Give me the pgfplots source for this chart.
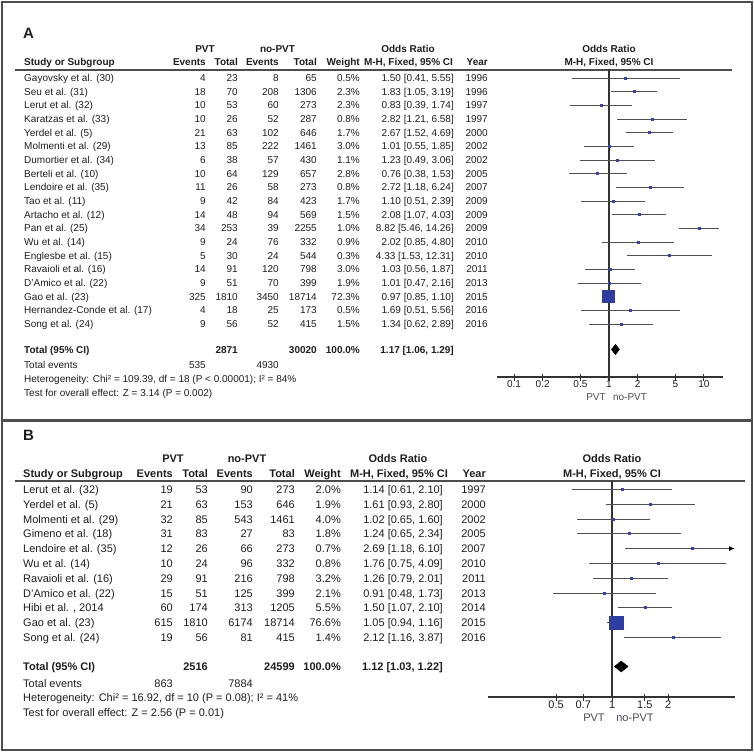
\documentclass[border=0pt]{standalone}
\usepackage{pgfplots}
\pgfplotsset{compat=1.18}
\usepackage{fontspec}
\setmainfont{Liberation Sans}
\usetikzlibrary{arrows.meta}

\definecolor{txt}{HTML}{1E1E1E}
\definecolor{cigray}{HTML}{505050}
\definecolor{sq}{HTML}{3344AA}
\definecolor{sqbig}{HTML}{2F3E9E}
\definecolor{axcol}{HTML}{333333}
\definecolor{framecol}{HTML}{4D4D4D}
\definecolor{lblcol}{HTML}{4A4A5A}

\pgfplotsset{
  myforest/.style={
    scale only axis, clip=false,
    xminorticks=false,
    axis x line*=bottom, axis y line=none,
    ytick=\empty,
    tick align=center, major tick length=7pt,
    x axis line style={line width=1.3pt, color=axcol},
    xtick style={line width=1.1pt, color=axcol},
    xticklabel style={text=txt, inner sep=0pt, anchor=north},
  },
  ci/.style={draw=cigray, line width=1.5pt},
  vline/.style={draw=axcol, line width=1.3pt},
  smallsq/.style={only marks, mark=square*, mark size=1pt, color=sq},
}

\begin{document}
\begin{tikzpicture}
\useasboundingbox (0,0) rectangle (754pt,-752pt);

% frames and header rules
\begin{scope}[x=1pt,y=-1pt]
  \draw[framecol, line width=1.5pt] (2,2) rectangle (752,420);
  \draw[framecol, line width=1.5pt] (2,421.5) rectangle (752,750);
  \draw[framecol, line width=1.6pt] (15,70) -- (732,70);
  \draw[framecol, line width=1.6pt] (15,481) -- (745,481);
\end{scope}

% ---------------- panel A text ----------------
\begin{scope}[x=1pt,y=-1pt, every node/.style={inner sep=0pt, text=txt},
  fa/.style={font=\fontsize{10}{12}\selectfont},
  fab/.style={font=\fontsize{10}{12}\selectfont\bfseries}]
  \node[anchor=base west, font=\fontsize{15}{18}\selectfont\bfseries] at (23,39) {A};
  \node[fab, anchor=base] at (205,52.6) {PVT};
  \node[fab, anchor=base] at (277.5,52.6) {no-PVT};
  \node[fab, anchor=base] at (408,52.6) {Odds Ratio};
  \node[fab, anchor=base] at (609,52.6) {Odds Ratio};
  \node[fab, anchor=base west] at (24,65.6) {Study or Subgroup};
  \node[fab, anchor=base east] at (206,65.6) {Events};
  \node[fab, anchor=base east] at (238,65.6) {Total};
  \node[fab, anchor=base east] at (279,65.6) {Events};
  \node[fab, anchor=base east] at (317,65.6) {Total};
  \node[fab, anchor=base east] at (360,65.6) {Weight};
  \node[fab, anchor=base] at (408.5,65.6) {M-H, Fixed, 95\% CI};
  \node[fab, anchor=base east] at (488,65.6) {Year};
  \node[fab, anchor=base] at (609,65.6) {M-H, Fixed, 95\% CI};

  \foreach \n/\ea/\ta/\eb/\tb/\w/\o/\yr [count=\i from 0] in {
    Gayovsky et al. (30)/4/23/8/65/0.5/{1.50 [0.41, 5.55]}/1996,
    Seu et al. (31)/18/70/208/1306/2.3/{1.83 [1.05, 3.19]}/1996,
    Lerut et al. (32)/10/53/60/273/2.3/{0.83 [0.39, 1.74]}/1997,
    Karatzas et al. (33)/10/26/52/287/0.8/{2.82 [1.21, 6.58]}/1997,
    Yerdel et al. (5)/21/63/102/646/1.7/{2.67 [1.52, 4.69]}/2000,
    Molmenti et al. (29)/13/85/222/1461/3.0/{1.01 [0.55, 1.85]}/2002,
    Dumortier et al. (34)/6/38/57/430/1.1/{1.23 [0.49, 3.06]}/2002,
    Berteli et al. (10)/10/64/129/657/2.8/{0.76 [0.38, 1.53]}/2005,
    Lendoire et al. (35)/11/26/58/273/0.8/{2.72 [1.18, 6.24]}/2007,
    Tao et al. (11)/9/42/84/423/1.7/{1.10 [0.51, 2.39]}/2009,
    Artacho et al.  (12)/14/48/94/569/1.5/{2.08 [1.07, 4.03]}/2009,
    Pan et al. (25)/34/253/39/2255/1.0/{8.82 [5.46, 14.26]}/2009,
    Wu et al. (14)/9/24/76/332/0.9/{2.02 [0.85, 4.80]}/2010,
    Englesbe et al. (15)/5/30/24/544/0.3/{4.33 [1.53, 12.31]}/2010,
    Ravaioli et al. (16)/14/91/120/798/3.0/{1.03 [0.56, 1.87]}/2011,
    D'Amico et al. (22)/9/51/70/399/1.9/{1.01 [0.47, 2.16]}/2013,
    Gao et al. (23)/325/1810/3450/18714/72.3/{0.97 [0.85, 1.10]}/2015,
    Hernandez-Conde et al. (17)/4/18/25/173/0.5/{1.69 [0.51, 5.56]}/2016,
    Song et al. (24)/9/56/52/415/1.5/{1.34 [0.62, 2.89]}/2016}{
    \pgfmathsetmacro\yy{78+13.67*\i+3.6}
    \node[fa, anchor=base west] at (24,\yy) {\n};
    \node[fa, anchor=base east] at (206,\yy) {\ea};
    \node[fa, anchor=base east] at (238,\yy) {\ta};
    \node[fa, anchor=base east] at (279,\yy) {\eb};
    \node[fa, anchor=base east] at (317,\yy) {\tb};
    \node[fa, anchor=base east] at (360,\yy) {\w\%};
    \node[fa, anchor=base east] at (454,\yy) {\o};
    \node[fa, anchor=base east] at (488,\yy) {\yr};
  }

  \node[fab, anchor=base west] at (24,353.6) {Total (95\% CI)};
  \node[fab, anchor=base east] at (238,353.6) {2871};
  \node[fab, anchor=base east] at (317,353.6) {30020};
  \node[fab, anchor=base east] at (360,353.6) {100.0\%};
  \node[fab, anchor=base east] at (454,353.6) {1.17 [1.06, 1.29]};
  \node[fa, anchor=base west] at (24,368.6) {Total events};
  \node[fa, anchor=base east] at (206,368.6) {535};
  \node[fa, anchor=base east] at (279,368.6) {4930};
  \node[fa, anchor=base west] at (24,382.6) {Heterogeneity: Chi² = 109.39, df = 18 (P < 0.00001); I² = 84\%};
  \node[fa, anchor=base west] at (24,396.4) {Test for overall effect: Z = 3.14 (P = 0.002)};
  \node[fa, anchor=base, text=lblcol] at (596,400.6) {PVT};
  \node[fa, anchor=base, text=lblcol] at (630,400.6) {no-PVT};
\end{scope}

% ---------------- panel B text ----------------
\begin{scope}[x=1pt,y=-1pt, every node/.style={inner sep=0pt, text=txt},
  fb/.style={font=\fontsize{11}{13}\selectfont},
  fbb/.style={font=\fontsize{11}{13}\selectfont\bfseries}]
  \node[anchor=base west, font=\fontsize{15}{18}\selectfont\bfseries] at (23,440.5) {B};
  \node[fbb, anchor=base] at (173,462.9) {PVT};
  \node[fbb, anchor=base] at (247,462.9) {no-PVT};
  \node[fbb, anchor=base] at (398,462.9) {Odds Ratio};
  \node[fbb, anchor=base] at (612,462.9) {Odds Ratio};
  \node[fbb, anchor=base west] at (23,477.9) {Study or Subgroup};
  \node[fbb, anchor=base east] at (173,477.9) {Events};
  \node[fbb, anchor=base east] at (208,477.9) {Total};
  \node[fbb, anchor=base east] at (253,477.9) {Events};
  \node[fbb, anchor=base east] at (295,477.9) {Total};
  \node[fbb, anchor=base east] at (341,477.9) {Weight};
  \node[fbb, anchor=base] at (399,477.9) {M-H, Fixed, 95\% CI};
  \node[fbb, anchor=base east] at (486,477.9) {Year};
  \node[fbb, anchor=base] at (612,477.9) {M-H, Fixed, 95\% CI};

  \foreach \n/\ea/\ta/\eb/\tb/\w/\o/\yr [count=\i from 0] in {
    Lerut et al. (32)/19/53/90/273/2.0/{1.14 [0.61, 2.10]}/1997,
    Yerdel et al. (5)/21/63/153/646/1.9/{1.61 [0.93, 2.80]}/2000,
    Molmenti et al. (29)/32/85/543/1461/4.0/{1.02 [0.65, 1.60]}/2002,
    Gimeno et al. (18)/31/83/27/83/1.8/{1.24 [0.65, 2.34]}/2005,
    Lendoire et al. (35)/12/26/66/273/0.7/{2.69 [1.18, 6.10]}/2007,
    Wu et al. (14)/10/24/96/332/0.8/{1.76 [0.75, 4.09]}/2010,
    Ravaioli et al. (16)/29/91/216/798/3.2/{1.26 [0.79, 2.01]}/2011,
    D'Amico et al. (22)/15/51/125/399/2.1/{0.91 [0.48, 1.73]}/2013,
    {Hibi et al. , 2014}/60/174/313/1205/5.5/{1.50 [1.07, 2.10]}/2014,
    Gao et al. (23)/615/1810/6174/18714/76.6/{1.05 [0.94, 1.16]}/2015,
    Song et al. (24)/19/56/81/415/1.4/{2.12 [1.16, 3.87]}/2016}{
    \pgfmathsetmacro\yy{489.5+14.8*\i+3.9}
    \node[fb, anchor=base west] at (23,\yy) {\n};
    \node[fb, anchor=base east] at (173,\yy) {\ea};
    \node[fb, anchor=base east] at (208,\yy) {\ta};
    \node[fb, anchor=base east] at (253,\yy) {\eb};
    \node[fb, anchor=base east] at (295,\yy) {\tb};
    \node[fb, anchor=base east] at (341,\yy) {\w\%};
    \node[fb, anchor=base east] at (443,\yy) {\o};
    \node[fb, anchor=base east] at (486,\yy) {\yr};
  }

  \node[fbb, anchor=base west] at (23,670.4) {Total (95\% CI)};
  \node[fbb, anchor=base east] at (208,670.4) {2516};
  \node[fbb, anchor=base east] at (295,670.4) {24599};
  \node[fbb, anchor=base east] at (341,670.4) {100.0\%};
  \node[fbb, anchor=base east] at (443,670.4) {1.12 [1.03, 1.22]};
  \node[fb, anchor=base west] at (23,687.9) {Total events};
  \node[fb, anchor=base east] at (173,687.9) {863};
  \node[fb, anchor=base east] at (253,687.9) {7884};
  \node[fb, anchor=base west] at (23,701.9) {Heterogeneity: Chi² = 16.92, df = 10 (P = 0.08); I² = 41\%};
  \node[fb, anchor=base west] at (23,716.9) {Test for overall effect: Z = 2.56 (P = 0.01)};
  \node[fb, anchor=base, text=lblcol] at (594,721.9) {PVT};
  \node[fb, anchor=base, text=lblcol] at (635,721.9) {no-PVT};
\end{scope}

% ---------------- panel A forest plot ----------------
\begin{semilogxaxis}[myforest,
  at={(497pt,-377pt)}, anchor=south west,
  width=226pt, height=308pt,
  xmin=0.0661, xmax=15.9, ymin=-377, ymax=-69,
  xtick={0.1,0.2,0.5,1,2,5,10}, xticklabels={0.1,0.2,0.5,1,2,5,10},
  xticklabel style={font=\fontsize{10}{12}\selectfont},
]
\addplot[vline] coordinates {(1,-69) (1,-377)};
\addplot[ci] coordinates {(0.41,-78.5) (5.55,-78.5)};
\addplot[ci] coordinates {(1.05,-91.5) (3.19,-91.5)};
\addplot[ci] coordinates {(0.39,-105.5) (1.74,-105.5)};
\addplot[ci] coordinates {(1.21,-119.5) (6.58,-119.5)};
\addplot[ci] coordinates {(1.52,-132.5) (4.69,-132.5)};
\addplot[ci] coordinates {(0.55,-146.5) (1.85,-146.5)};
\addplot[ci] coordinates {(0.49,-160.5) (3.06,-160.5)};
\addplot[ci] coordinates {(0.38,-173.5) (1.53,-173.5)};
\addplot[ci] coordinates {(1.18,-187.5) (6.24,-187.5)};
\addplot[ci] coordinates {(0.51,-201.5) (2.39,-201.5)};
\addplot[ci] coordinates {(1.07,-214.5) (4.03,-214.5)};
\addplot[ci] coordinates {(5.46,-228.5) (14.26,-228.5)};
\addplot[ci] coordinates {(0.85,-242.5) (4.80,-242.5)};
\addplot[ci] coordinates {(1.53,-255.5) (12.31,-255.5)};
\addplot[ci] coordinates {(0.56,-269.5) (1.87,-269.5)};
\addplot[ci] coordinates {(0.47,-283.5) (2.16,-283.5)};
\addplot[ci] coordinates {(0.85,-296.5) (1.10,-296.5)};
\addplot[ci] coordinates {(0.51,-310.5) (5.56,-310.5)};
\addplot[ci] coordinates {(0.62,-324.5) (2.89,-324.5)};
\addplot[smallsq] coordinates {
  (1.50,-78.5) (1.83,-91.5) (0.83,-105.5) (2.82,-119.5) (2.67,-132.5)
  (1.01,-146.5) (1.23,-160.5) (0.76,-173.5) (2.72,-187.5) (1.10,-201.5)
  (2.08,-214.5) (8.82,-228.5) (2.02,-242.5) (4.33,-255.5) (1.03,-269.5)
  (1.01,-283.5) (1.69,-310.5) (1.34,-324.5)};
\addplot[only marks, mark=square*, mark size=6pt, color=sqbig] coordinates {(0.97,-296.5)};
\addplot[fill=black, draw=black] coordinates {(1.06,-349.5) (1.17,-344.3) (1.29,-349.5) (1.17,-354.7)} -- cycle;
\end{semilogxaxis}

% ---------------- panel B forest plot ----------------
\begin{semilogxaxis}[myforest,
  at={(488pt,-697pt)}, anchor=south west,
  width=247pt, height=216pt,
  xmin=0.2154, xmax=4.58, ymin=-697, ymax=-481,
  xtick={0.5,0.7,1,1.5,2}, xticklabels={0.5,0.7,1,1.5,2},
  xticklabel style={font=\fontsize{11}{13}\selectfont},
]
\addplot[vline] coordinates {(1,-481) (1,-697)};
\addplot[ci] coordinates {(0.61,-489.5) (2.10,-489.5)};
\addplot[ci] coordinates {(0.93,-504.5) (2.80,-504.5)};
\addplot[ci] coordinates {(0.65,-519.5) (1.60,-519.5)};
\addplot[ci] coordinates {(0.65,-533.5) (2.34,-533.5)};
\addplot[ci, -{Latex[length=6pt,width=5pt,color=black,fill=black]}] coordinates {(1.18,-548.5) (4.58,-548.5)};
\addplot[ci] coordinates {(0.75,-563.5) (4.09,-563.5)};
\addplot[ci] coordinates {(0.79,-578.5) (2.01,-578.5)};
\addplot[ci] coordinates {(0.48,-593.5) (1.73,-593.5)};
\addplot[ci] coordinates {(1.07,-607.5) (2.10,-607.5)};
\addplot[ci] coordinates {(0.94,-622.5) (1.16,-622.5)};
\addplot[ci] coordinates {(1.16,-637.5) (3.87,-637.5)};
\addplot[smallsq] coordinates {
  (1.14,-489.5) (1.61,-504.5) (1.02,-519.5) (1.24,-533.5) (2.69,-548.5)
  (1.76,-563.5) (1.26,-578.5) (0.91,-593.5) (1.50,-607.5) (2.12,-637.5)};
\addplot[only marks, mark=square*, mark size=6.8pt, color=sqbig] coordinates {(1.05,-622.5)};
\addplot[fill=black, draw=black] coordinates {(1.03,-666.5) (1.12,-661.0) (1.22,-666.5) (1.12,-672.0)} -- cycle;
\end{semilogxaxis}
\end{tikzpicture}
\end{document}
